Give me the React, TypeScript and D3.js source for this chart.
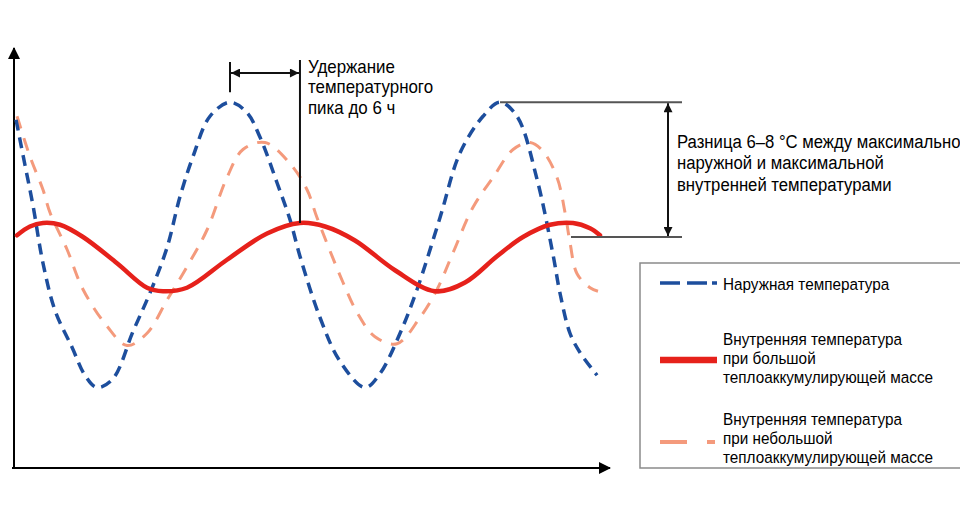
import * as d3 from 'd3'

// hours, °C
const outdoor: [number, number][] = [
  [0.18, 27.9], [0.98, 25.3], [1.69, 23.0], [2.58, 19.7], [3.65, 17.0], [5.16, 14.9],
  [6.31, 13.3], [7.38, 12.6], [8.8, 13.1], [10.58, 15.8], [12.09, 18.0], [13.61, 20.6],
  [14.76, 23.5], [15.92, 25.8], [17.43, 28.1], [19.21, 28.9], [20.72, 28.3], [21.88, 26.9],
  [23.39, 24.3], [24.54, 22.2], [25.43, 20.1], [27.21, 16.6], [28.99, 14.1], [31.21, 12.6],
  [32.55, 13.4], [34.33, 15.7], [35.84, 18.2], [37.88, 22.3], [39.66, 26.0], [41.71, 28.1],
  [43.22, 28.9], [44.73, 28.1], [46.51, 24.5], [47.93, 20.2], [48.55, 18.0], [49.44, 15.7],
  [50.33, 14.6], [51.85, 13.3],
]

const indoorHeavy: [number, number][] = [
  [0.27, 21.3], [1.42, 21.8], [2.58, 22.0], [4.09, 21.9], [6.14, 21.2], [9.16, 19.7],
  [11.83, 18.3], [13.25, 18.1], [15.38, 18.3], [18.94, 19.9], [22.5, 21.4], [25.43, 22.0],
  [27.66, 21.8], [30.32, 21.0], [33.88, 19.3], [37.44, 18.1], [40.11, 18.6], [42.95, 20.1],
  [45.26, 21.2], [47.67, 21.9], [49.71, 22.0], [51.22, 21.7], [52.11, 21.3],
]

const indoorLight: [number, number][] = [
  [0.27, 28.1], [1.42, 25.8], [2.58, 23.9], [3.2, 22.6], [4.71, 20.5], [6.14, 18.2],
  [8.27, 16.1], [10.05, 15.0], [11.83, 15.7], [13.61, 17.6], [15.38, 19.5], [17.16, 21.6],
  [18.94, 24.6], [20.36, 26.2], [22.32, 26.6], [24.54, 25.4], [26.06, 23.9], [26.95, 22.3],
  [29.26, 18.6], [30.5, 16.9], [32.1, 15.5], [34.06, 15.1], [36.1, 16.6], [37.62, 18.2],
  [39.04, 20.3], [40.82, 22.9], [42.6, 24.6], [44.38, 26.2], [45.89, 26.6], [47.04, 26.1],
  [48.29, 24.6], [49.0, 22.6], [49.44, 20.9], [50.07, 19.1], [51.23, 18.3], [51.93, 18.1],
]

const holdLabel = ['Удержание', 'температурного', 'пика до 6 ч']
const diffLabel = [
  'Разница 6–8 °С между максимально',
  'наружной и максимальной',
  'внутренней температурами',
]
const legendLabels = [
  ['Наружная температура'],
  ['Внутренняя температура', 'при большой', 'теплоаккумулирующей массе'],
  ['Внутренняя температура', 'при небольшой', 'теплоаккумулирующей массе'],
]

const BLUE = '#1d4e9d'
const RED = '#e6211b'
const PEACH = '#f49a7c'
const FONT = "'Liberation Sans', Arial, sans-serif"

// the source uses a condensed face, so squeeze a regular one
function Label({ x, ys, lines, size, squeeze = 0.9 }: {
  x: number; ys: number[]; lines: string[]; size: number; squeeze?: number
}) {
  return (
    <g transform={`translate(${x},0) scale(${squeeze},1)`}>
      <text fontFamily={FONT} fontSize={size} fill="#000">
        {lines.map((s, i) => (
          <tspan key={i} x={0} y={ys[i]}>{s}</tspan>
        ))}
      </text>
    </g>
  )
}

export default function App() {
  const width = 960
  const height = 530

  const x = d3.scaleLinear().domain([0, 53]).range([14, 610])
  const y = d3.scaleLinear().domain([8, 32]).range([468, 48])

  const line = d3
    .line<[number, number]>()
    .x((d) => x(d[0]))
    .y((d) => y(d[1]))
    .curve(d3.curveCatmullRom.alpha(0.5))

  const bluePeak1 = d3.greatest(outdoor.filter((d) => d[0] < 30), (d) => d[1])!
  const bluePeak2 = d3.greatest(outdoor.filter((d) => d[0] > 30), (d) => d[1])!
  const redPeak = d3.greatest(indoorHeavy.filter((d) => d[0] > 20 && d[0] < 35), (d) => d[1])!

  const bx = x(bluePeak1[0])
  const rx = x(redPeak[0])
  const arrowY = 73

  const topY = y(bluePeak2[1])
  const botY = 237
  const vx = 668

  const legendRows = [
    { color: BLUE, dash: '20 7 20 5 5 100', w: 3.5, lineY: 283, textY: [290] },
    { color: RED, dash: undefined, w: 6.5, lineY: 360, textY: [345, 364, 383] },
    { color: PEACH, dash: '27 20 8 100', w: 4, lineY: 442, textY: [425, 444, 463] },
  ]

  return (
    <div style={{ position: 'absolute', left: 0, top: 0 }}>
      <svg width={width} height={height} style={{ display: 'block', background: '#fff' }}>
        <defs>
          <marker id="axisArrow" viewBox="0 0 12 12" refX="11" refY="6" markerWidth="12" markerHeight="12" markerUnits="userSpaceOnUse" orient="auto">
            <path d="M0,0 L12,6 L0,12 Z" fill="#000" />
          </marker>
          <marker id="dimArrow" viewBox="0 0 10 10" refX="10" refY="5" markerWidth="10" markerHeight="9" markerUnits="userSpaceOnUse" orient="auto-start-reverse">
            <path d="M0,0 L10,5 L0,10 Z" fill="#111" />
          </marker>
        </defs>

        {/* axes */}
        <line x1={14} y1={468} x2={14} y2={48} stroke="#000" strokeWidth={2} markerEnd="url(#axisArrow)" />
        <line x1={12} y1={468} x2={610} y2={468} stroke="#000" strokeWidth={2} markerEnd="url(#axisArrow)" />

        {/* series */}
        <path d={line(indoorLight) ?? ''} fill="none" stroke={PEACH} strokeWidth={3} strokeDasharray="13 10" />
        <path d={line(outdoor) ?? ''} fill="none" stroke={BLUE} strokeWidth={3.5} strokeDasharray="11 7" />
        <path d={line(indoorHeavy) ?? ''} fill="none" stroke={RED} strokeWidth={4.5} strokeLinecap="round" />

        {/* peak hold annotation */}
        <line x1={bx} y1={62} x2={bx} y2={y(bluePeak1[1]) - 10} stroke="#111" strokeWidth={2} />
        <line x1={rx} y1={60} x2={rx} y2={y(redPeak[1])} stroke="#111" strokeWidth={2} />
        <line x1={bx + 1} y1={arrowY} x2={rx - 1} y2={arrowY} stroke="#111" strokeWidth={2}
          markerStart="url(#dimArrow)" markerEnd="url(#dimArrow)" />
        <Label x={rx + 8} ys={[73, 93.5, 114]} lines={holdLabel} size={18} squeeze={0.94} />

        {/* difference annotation */}
        <line x1={x(bluePeak2[0])} y1={topY} x2={682} y2={topY} stroke="#555" strokeWidth={2} />
        <line x1={571} y1={botY} x2={682} y2={botY} stroke="#555" strokeWidth={2} />
        <line x1={vx} y1={topY + 1} x2={vx} y2={botY - 1} stroke="#111" strokeWidth={2}
          markerStart="url(#dimArrow)" markerEnd="url(#dimArrow)" />
        <Label x={677} ys={[148, 169.5, 191]} lines={diffLabel} size={19} squeeze={0.88} />

        {/* legend */}
        <rect x={640} y={263} width={340} height={205} fill="none" stroke="#8a8a8a" strokeWidth={1.5} />
        {legendRows.map((r, i) => (
          <g key={i}>
            <line x1={660} x2={717} y1={r.lineY} y2={r.lineY} stroke={r.color} strokeWidth={r.w} strokeDasharray={r.dash} />
            <Label x={723} ys={r.textY} lines={legendLabels[i]} size={17} />
          </g>
        ))}
      </svg>
    </div>
  )
}
